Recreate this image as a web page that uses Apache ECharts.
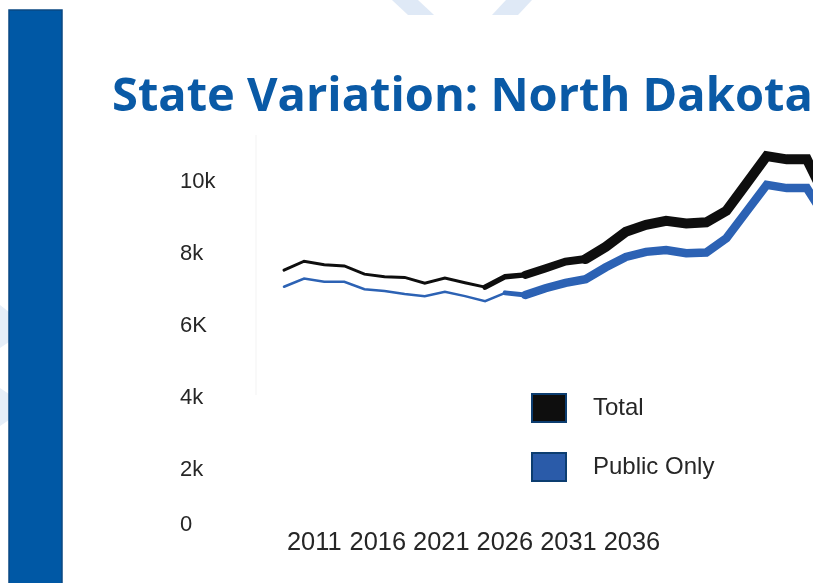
<!DOCTYPE html>
<html>
<head>
<meta charset="utf-8">
<script src="https://cdn.jsdelivr.net/npm/echarts@6/dist/echarts.min.js"></script>
<style>
html,body{margin:0;padding:0;background:#fff;}
#chart{width:813px;height:583px;}
</style>
</head>
<body>
<div id="chart"></div>
<script>
// ---- data ----
const titleText = 'State Variation: North Dakota';
const xTickYears = [2011, 2016, 2021, 2026, 2031, 2036];
const yTickValues = [0, 2000, 4000, 6000, 8000, 10000];
const yTickLabels = ['0', '2k', '4k', '6K', '8k', '10k'];
const periods = ['2011','2012','2013','2014','2015','2016','2017','2018','2019','2020',
  '2021','2022','2023','2024','2025','2026','2027','2028','2029','2030',
  '2031','2032','2033','2034','2035','2036','2037','2038'];
const totalValues = [7550, 7800, 7700, 7670, 7440, 7370, 7350, 7190, 7330, 7200,
  7080, 7370, 7420, 7600, 7790, 7860, 8200, 8620, 8810, 8920,
  8850, 8880, 9200, 9960, 10720, 10630, 10630, 9500];
const publicValues = [7090, 7320, 7230, 7230, 7020, 6970, 6890, 6830, 6950, 6830,
  6690, 6920, 6860, 7050, 7200, 7300, 7630, 7920, 8060, 8110,
  8020, 8040, 8440, 9180, 9920, 9830, 9830, 8940];
const seriesNames = ['Total', 'Public Only'];

// ---- styling ----
const C_TOTAL = '#0e0e0e';
const C_PUBLIC = '#2c62b4';
const C_TITLE = '#0a5aa6';
const C_BAR = '#0058a5';

function segment(values, from, to) {
  return values.map((v, i) => (i >= from && i <= to) ? v : null);
}
function seg(name, values, from, to, width, color, z) {
  return {
    name: name, type: 'line', xAxisIndex: 1, yAxisIndex: 0,
    data: segment(values, from, to), connectNulls: false,
    symbol: 'none', silent: true, z: z,
    lineStyle: { width: width, color: color, join: 'miter', cap: 'round' },
    itemStyle: { color: color }
  };
}

const chart = echarts.init(document.getElementById('chart'), null, { renderer: 'canvas' });

const labelFont = 'Liberation Sans, Arial, sans-serif';

chart.setOption({
  animation: false,
  backgroundColor: '#ffffff',
  title: {
    text: titleText,
    left: 107, top: 69,
    textStyle: { fontFamily: 'Open Sans', fontWeight: 'bold', fontSize: 47, color: C_TITLE }
  },
  graphic: [
    { type: 'rect', shape: { x: 9, y: 10, width: 53, height: 600 },
      style: { fill: C_BAR, stroke: '#0a4883', lineWidth: 1.5 }, z: 1 },
    { type: 'polygon', shape: { points: [[392,0],[418,0],[434,15],[408,15]] },
      style: { fill: '#dfe9f6' }, z: 0 },
    { type: 'polygon', shape: { points: [[506,0],[532,0],[518,15],[492,15]] },
      style: { fill: '#dfe9f6' }, z: 0 },
    { type: 'polygon', shape: { points: [[0,305],[9,312],[9,342],[0,348]] },
      style: { fill: '#e6eef8' }, z: 0 },
    { type: 'polygon', shape: { points: [[0,388],[9,394],[9,420],[0,426]] },
      style: { fill: '#e6eef8' }, z: 0 },
    { type: 'line', shape: { x1: 256, y1: 135, x2: 256, y2: 395 },
      style: { stroke: '#f3f3f3', lineWidth: 1 }, z: 0 }
  ],
  legend: {
    orient: 'vertical',
    left: 531, top: 393,
    padding: 0,
    itemWidth: 34, itemHeight: 28, itemGap: 29,
    icon: 'rect',
    selectedMode: false,
    textStyle: { fontFamily: labelFont, fontSize: 24, color: '#262626', padding: [0, 0, 0, 22] },
    data: [
      { name: seriesNames[0], itemStyle: { color: C_TOTAL, borderColor: '#0c3d70', borderWidth: 2 } },
      { name: seriesNames[1], itemStyle: { color: '#2a5ba9', borderColor: '#0c3d70', borderWidth: 2 } }
    ]
  },
  grid: { left: 284, top: 110, width: 543, height: 432, containLabel: false, outerBoundsMode: 'none' },
  xAxis: [
    {
      type: 'value', position: 'bottom',
      min: 2008.62, max: 2051.35,
      axisLine: { show: false }, axisTick: { show: false }, splitLine: { show: false },
      axisLabel: {
        customValues: xTickYears,
        formatter: v => String(v),
        fontFamily: labelFont, fontSize: 25.4, color: '#262626',
        verticalAlign: 'middle', margin: 1
      }
    },
    {
      type: 'category', data: periods, boundaryGap: false, show: false
    }
  ],
  yAxis: [{
    type: 'value', min: 0, max: 12000,
    axisLine: { show: false }, axisTick: { show: false }, splitLine: { show: false },
    axisLabel: {
      customValues: yTickValues,
      formatter: v => {
        const lbl = yTickLabels[yTickValues.indexOf(v)];
        return v === 0 ? '{z|' + lbl + '}' : lbl;
      },
      align: 'left', margin: 104,
      fontFamily: labelFont, fontSize: 22, color: '#262626',
      rich: { z: { fontFamily: labelFont, fontSize: 22, color: '#262626', padding: [0, 0, 34, 0] } }
    }
  }],
  series: [
    seg(seriesNames[0], totalValues, 0, 10, 3, C_TOTAL, 3),
    seg(seriesNames[0], totalValues, 10, 12, 5.5, C_TOTAL, 4),
    seg(seriesNames[0], totalValues, 12, 15, 8, C_TOTAL, 5),
    seg(seriesNames[0], totalValues, 15, 27, 10, C_TOTAL, 6),
    seg(seriesNames[1], publicValues, 0, 11, 2.5, C_PUBLIC, 3),
    seg(seriesNames[1], publicValues, 11, 12, 5, C_PUBLIC, 4),
    seg(seriesNames[1], publicValues, 12, 27, 8.5, C_PUBLIC, 5)
  ]
});
</script>
</body>
</html>
